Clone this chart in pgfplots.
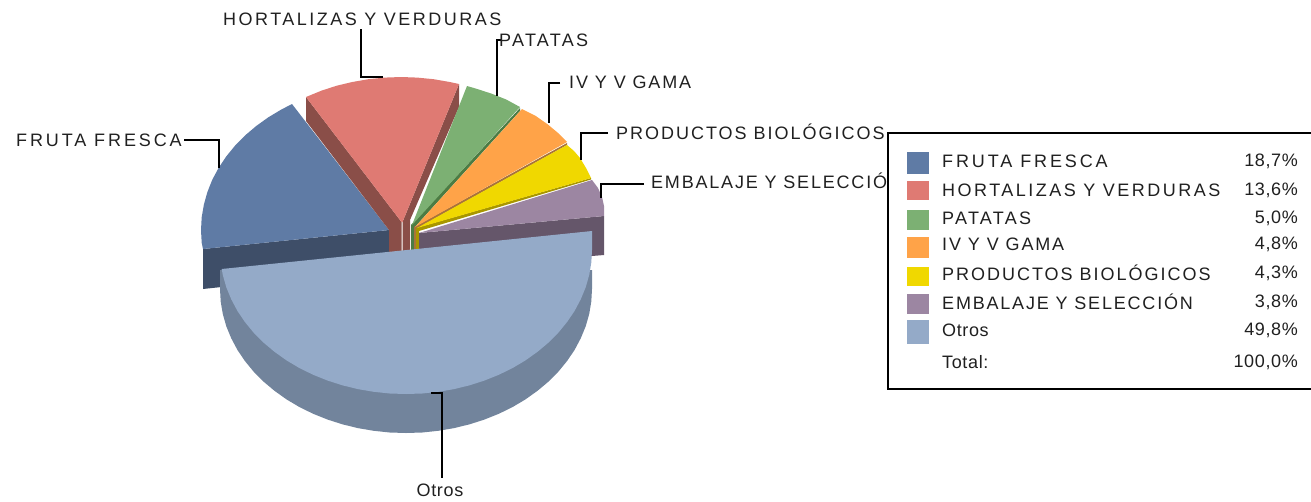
\documentclass[border=0pt]{standalone}
\usepackage{pgfplots}
\pgfplotsset{compat=1.18}
\usepackage{fontspec}
\setmainfont[LetterSpace=3.5]{Liberation Sans}
\newfontfamily\trkF[LetterSpace=16]{Liberation Sans}
\newfontfamily\trkH[LetterSpace=13.8]{Liberation Sans}
\newfontfamily\trkP[LetterSpace=12.5]{Liberation Sans}
\newfontfamily\trkI[LetterSpace=10.3]{Liberation Sans}
\newfontfamily\trkB[LetterSpace=11]{Liberation Sans}
\newfontfamily\trkE[LetterSpace=10]{Liberation Sans}
\definecolor{fruta}{HTML}{5F7BA5}\definecolor{frutad}{HTML}{3E4E68}
\definecolor{hort}{HTML}{DF7A73}\definecolor{hortd}{HTML}{8A4E48}
\definecolor{pat}{HTML}{7CB073}\definecolor{patd}{HTML}{4C7C44}
\definecolor{iv}{HTML}{FFA348}\definecolor{ivd}{HTML}{A9733A}
\definecolor{prod}{HTML}{F0D800}\definecolor{prodd}{HTML}{A89600}
\definecolor{emb}{HTML}{9C86A2}\definecolor{embd}{HTML}{65566A}
\definecolor{otros}{HTML}{94AAC8}\definecolor{otrosd}{HTML}{72849C}
\definecolor{txt}{HTML}{202020}
\tikzset{lbl/.style={font=\fontsize{18}{20}\selectfont,text=txt,inner sep=0pt}}
\begin{document}
\begin{tikzpicture}
\begin{axis}[width=1311pt,height=501pt,scale only axis,at={(0,0)},anchor=south west,
  xmin=0,xmax=1311,ymin=0,ymax=501,y dir=reverse,hide axis,
  every axis plot/.append style={no marks,line join=miter}]
% ---- Fruta fresca
\addplot[fill=frutad,draw=none] coordinates {(203,249)(389,230)(389,269)(203,289)} --cycle;
\addplot[fill=fruta,draw=none] coordinates {(389,230)(203,249)(201.7,242.8)(201,230)(201.7,217.2)(203.9,204.5)(207.4,192)(212.3,179.7)(218.6,167.9)(226.2,156.5)(235,145.7)(245,135.5)(256.1,126.1)(268.2,117.4)(281.2,109.6)(292,104)} --cycle;
% ---- Hortalizas
\addplot[fill=hortd,draw=none] coordinates {(306,97)(401.5,222)(401.5,254)(389,254)(389,230)(306,121)} --cycle;
\addplot[fill=hortd,draw=none] coordinates {(459,84)(402.5,222)(402.5,254)(410,254)(410,220)(459,107)} --cycle;
\addplot[fill=hort,draw=none] coordinates {(401.5,222)(306,97)(321.6,90.6)(336.7,85.7)(352.3,82)(368.4,79.2)(384.6,77.6)(401,77)(417.4,77.6)(433.6,79.2)(449.7,82)(459,84)(402.5,222)} --cycle;
% ---- Patatas
\addplot[fill=patd,draw=none] coordinates {(520,108)(411,225)(411,254)(414,254)(414,228)(520,111)} --cycle;
\addplot[fill=pat,draw=none] coordinates {(412,225)(467,86)(476.3,88.7)(491.4,93.6)(506,99.4)(520,107)} --cycle;
% ---- IV y V gama
\addplot[fill=ivd,draw=none] coordinates {(567,143)(414,227)(414,254)(416,254)(416,229)(567,145)} --cycle;
\addplot[fill=iv,draw=none] coordinates {(415,227)(522,109)(535.8,116)(547.9,124.5)(559,133.8)(567,142)} --cycle;
% ---- Productos biologicos
\addplot[fill=prodd,draw=none] coordinates {(591,178)(416,228)(416,254)(419,254)(419,231)(591,179.5)} --cycle;
\addplot[fill=prod,draw=none] coordinates {(417,228)(567,145)(574,151)(580,158)(586,168)(591,178)} --cycle;
% ---- Embalaje
\addplot[fill=embd,draw=none] coordinates {(419,233)(604,216)(604,255)(592,256)(419,272)} --cycle;
\addplot[fill=emb,draw=none] coordinates {(419,233)(592,180)(598,188)(602,197)(604,206)(604,216)} --cycle;
% ---- Otros
\addplot[fill=otrosd,draw=none] coordinates {(592,270)(592,289)(591.3,301.6)(589.2,314)(585.7,326.3)(580.8,338.2)(574.6,349.9)(567.1,361)(558.4,371.6)(548.5,381.6)(537.5,390.8)(525.6,399.3)(512.7,407)(499,413.7)(484.6,419.5)(469.6,424.3)(454.1,428.1)(438.3,430.8)(422.2,432.5)(406,433)(389.8,432.5)(373.7,430.8)(357.9,428.1)(342.4,424.3)(327.4,419.5)(313,413.7)(299.3,407)(286.4,399.3)(274.5,390.8)(263.5,381.6)(253.6,371.6)(244.9,361)(237.4,349.9)(231.2,338.2)(226.3,326.3)(222.8,314)(220.7,301.6)(220,289)(220,270)} --cycle;
\addplot[fill=otros,draw=none] coordinates {(592,231)(592,250)(591.3,262.6)(589.2,275)(585.7,287.3)(580.8,299.2)(574.6,310.9)(567.1,322)(558.4,332.6)(548.5,342.6)(537.5,351.8)(525.6,360.3)(512.7,368)(499,374.7)(484.6,380.5)(469.6,385.3)(454.1,389.1)(438.3,391.8)(422.2,393.5)(406,394)(389.8,393.5)(373.7,391.8)(357.9,389.1)(342.4,385.3)(327.4,380.5)(313,374.7)(299.3,368)(286.4,360.3)(274.5,351.8)(263.5,342.6)(253.6,332.6)(244.9,322)(237.4,310.9)(231.2,299.2)(226.3,287.3)(222.8,275)(221.7,269)} --cycle;
% ---- Leader lines
\addplot[black,line width=1.4pt] coordinates {(184,140)(219,140)(219,168)};
\addplot[black,line width=1.4pt] coordinates {(361,29)(361,77)(383,77)};
\addplot[black,line width=1.4pt] coordinates {(501,40)(497,40)(497,96)};
\addplot[black,line width=1.4pt] coordinates {(560,83)(549,83)(549,123)};
\addplot[black,line width=1.4pt] coordinates {(608,133)(581,133)(581,160)};
\addplot[black,line width=1.4pt] coordinates {(644,184)(601,184)(601,198)};
\addplot[black,line width=1.4pt] coordinates {(431,393)(442,393)(442,478)};
% ---- Slice labels
\node[lbl,anchor=west] at (axis cs:16,140) {\trkF FRUTA FRESCA};
\node[lbl,anchor=west] at (axis cs:223,19) {\trkH HORTALIZAS Y VERDURAS};
\node[lbl,anchor=west] at (axis cs:499,40) {\trkP PATATAS};
\node[lbl,anchor=west] at (axis cs:569,82) {\trkI IV Y V GAMA};
\node[lbl,anchor=west] at (axis cs:616,132) {\trkB PRODUCTOS BIOLÓGICOS};
\node[lbl,anchor=west] at (axis cs:651,181) {\trkE EMBALAJE Y SELECCIÓN};
\node[lbl,anchor=center] at (axis cs:440,490) {Otros};
% ---- Legend box
\addplot[fill=white,draw=black,line width=1.4pt] coordinates {(888,133)(1330,133)(1330,389)(888,389)} --cycle;
\addplot[fill=fruta,draw=none] coordinates {(907,152)(929,152)(929,174)(907,174)} --cycle;
\addplot[fill=hort,draw=none] coordinates {(907,181)(929,181)(929,200)(907,200)} --cycle;
\addplot[fill=pat,draw=none] coordinates {(907,210)(929,210)(929,230)(907,230)} --cycle;
\addplot[fill=iv,draw=none] coordinates {(907,237)(929,237)(929,258)(907,258)} --cycle;
\addplot[fill=prod,draw=none] coordinates {(907,267)(929,267)(929,286)(907,286)} --cycle;
\addplot[fill=emb,draw=none] coordinates {(907,294)(929,294)(929,314)(907,314)} --cycle;
\addplot[fill=otros,draw=none] coordinates {(907,320)(929,320)(929,344)(907,344)} --cycle;
\node[lbl,anchor=west] at (axis cs:942,161) {\trkF FRUTA FRESCA};
\node[lbl,anchor=west] at (axis cs:942,190) {\trkH HORTALIZAS Y VERDURAS};
\node[lbl,anchor=west] at (axis cs:942,218) {\trkP PATATAS};
\node[lbl,anchor=west] at (axis cs:942,244) {\trkI IV Y V GAMA};
\node[lbl,anchor=west] at (axis cs:942,273) {\trkB PRODUCTOS BIOLÓGICOS};
\node[lbl,anchor=west] at (axis cs:942,302) {\trkE EMBALAJE Y SELECCIÓN};
\node[lbl,anchor=west] at (axis cs:942,330) {Otros};
\node[lbl,anchor=west] at (axis cs:942,362) {Total:};
\node[lbl,anchor=east] at (axis cs:1298,161) {18,7\%};
\node[lbl,anchor=east] at (axis cs:1298,190) {13,6\%};
\node[lbl,anchor=east] at (axis cs:1298,218) {5,0\%};
\node[lbl,anchor=east] at (axis cs:1298,244) {4,8\%};
\node[lbl,anchor=east] at (axis cs:1298,273) {4,3\%};
\node[lbl,anchor=east] at (axis cs:1298,302) {3,8\%};
\node[lbl,anchor=east] at (axis cs:1298,330) {49,8\%};
\node[lbl,anchor=east] at (axis cs:1298,362) {100,0\%};
\end{axis}
\path[use as bounding box] (0,0) rectangle (1311pt,501pt);
\end{tikzpicture}
\end{document}
